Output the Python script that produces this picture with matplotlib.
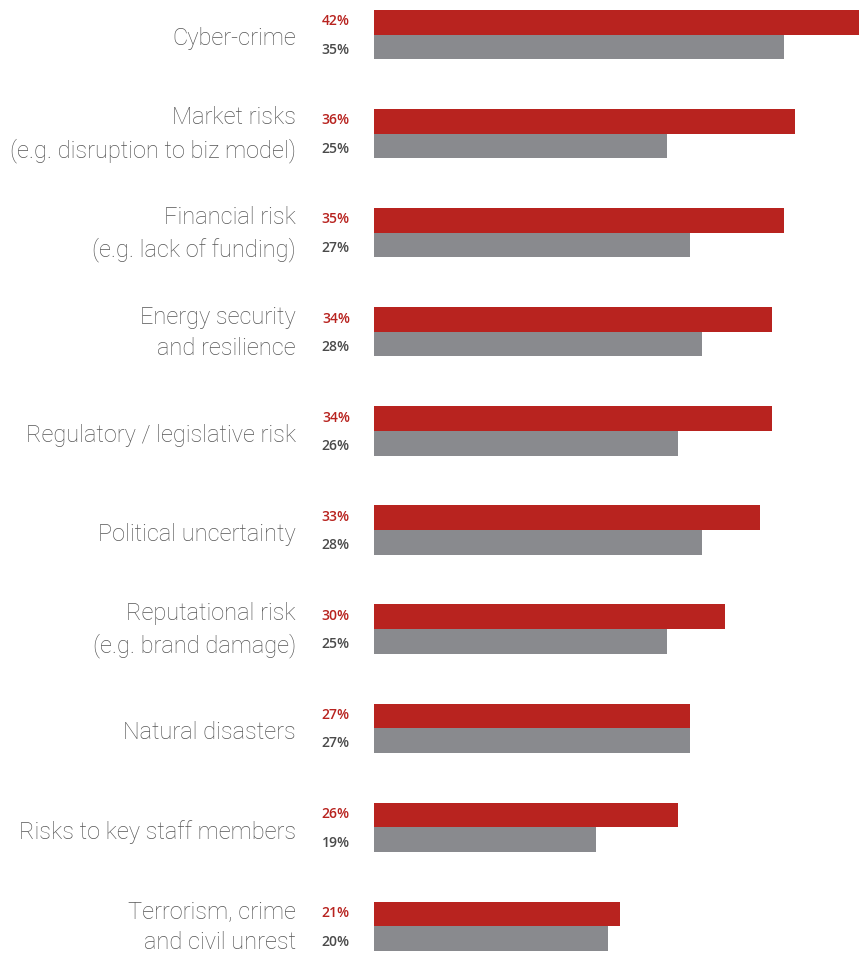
import matplotlib
matplotlib.use('agg')
import matplotlib.pyplot as plt
import numpy as np

categories = ['Cyber-crime',
              'Market risks\n(e.g. disruption to biz model)',
              'Financial risk\n(e.g. lack of funding)',
              'Energy security\nand resilience',
              'Regulatory / legislative risk',
              'Political uncertainty',
              'Reputational risk\n(e.g. brand damage)',
              'Natural disasters',
              'Risks to key staff members',
              'Terrorism, crime\nand civil unrest']
red_vals = [42, 36, 35, 34, 34, 33, 30, 27, 26, 21]
gray_vals = [35, 25, 27, 28, 26, 28, 25, 27, 19, 20]

RED = '#b8231f'
GRAY = '#898a8e'
TXT = '#555555'

W, H = 859, 954
fig = plt.figure(figsize=(W / 100, H / 100), dpi=100)
ax = fig.add_axes([374 / W, 0, 1 - 374 / W, 1])

step = 99.1  # px between groups
off = 35.5   # px from top to first group centre
bh = 24.6 / step
y = np.arange(len(categories))
ax.barh(y - bh / 2, red_vals, height=bh, color=RED)
ax.barh(y + bh / 2, gray_vals, height=bh, color=GRAY)

ax.set_xlim(0, 485 / 11.7)
ax.set_ylim((H - off) / step, -off / step)
ax.axis('off')

for i, cat in enumerate(categories):
    dy = 0.0 if '\n' in cat else 0.035
    ax.text(-78 / 11.7, i + dy, cat, ha='right', va='center', fontsize=17,
            color=TXT, family=['Roboto', 'DejaVu Sans'], fontweight='light',
            linespacing=1.45)
    ax.text(-24 / 11.7, i - bh / 2 - 0.02, f'{red_vals[i]}%', ha='right', va='center',
            fontsize=10, color=RED, family=['Open Sans', 'DejaVu Sans'],
            fontweight='semibold')
    ax.text(-24 / 11.7, i + bh / 2 + 0.02, f'{gray_vals[i]}%', ha='right', va='center',
            fontsize=10, color='#4a4a4a', family=['Open Sans', 'DejaVu Sans'],
            fontweight='semibold')

for t in ax.texts:
    t.set_clip_on(False)

fig.savefig('out.png', dpi=100)
